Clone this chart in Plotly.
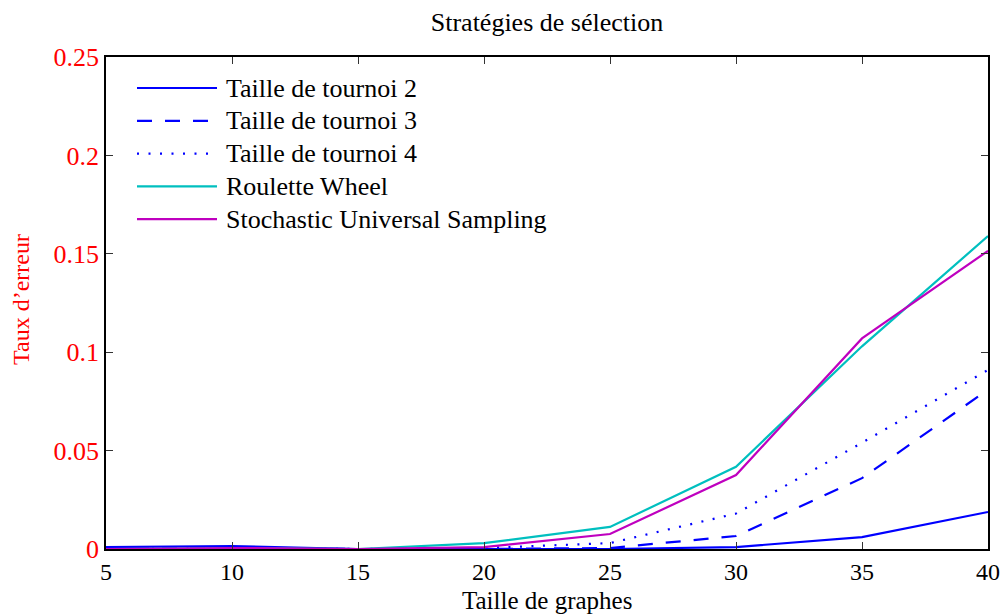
import plotly.graph_objects as go

x_sizes = [5, 10, 15, 20, 25, 30, 35, 40]
tournoi2 = [0.001, 0.0015, 0.0, 0.0, 0.0, 0.001, 0.006, 0.0188]
tournoi3 = [0.0005, 0.0005, 0.0, 0.0, 0.0005, 0.0066, 0.036, 0.081]
tournoi4 = [0.0005, 0.0005, 0.0, 0.0005, 0.003, 0.018, 0.054, 0.091]
roulette = [0.0, 0.0005, 0.0, 0.003, 0.0112, 0.0418, 0.103, 0.159]
sus = [0.0, 0.0005, 0.0, 0.001, 0.0076, 0.0376, 0.107, 0.1515]

names = ["Taille de tournoi 2", "Taille de tournoi 3", "Taille de tournoi 4",
         "Roulette Wheel", "Stochastic Universal Sampling"]
series = [tournoi2, tournoi3, tournoi4, roulette, sus]
colors = ["#0000ff", "#0000ff", "#0000ff", "#00bfbf", "#bf00bf"]
dashes = ["solid", "15px,13px", "2px,9.5px", "solid", "solid"]

y_ticks = [0, 0.05, 0.1, 0.15, 0.2, 0.25]
y_ticklabels = ["0", "0.05", "0.1", "0.15", "0.2", "0.25"]
x_ticks = [5, 10, 15, 20, 25, 30, 35, 40]

FONT = "Liberation Serif"

fig = go.Figure()
for n, s, c, d in zip(names, series, colors, dashes):
    fig.add_trace(go.Scatter(x=x_sizes, y=s, mode="lines", name=n,
                             line=dict(color=c, width=2.2, dash=d),
                             showlegend=False))

# custom legend (MATLAB style, long line samples)
W, H = 1004, 614
L, R, T, B = 106, 16, 57, 65
pw, ph = W - L - R, H - T - B
def px(xp):
    return (xp - L) / pw
def py(yp):
    return 1 - (yp - T) / ph

shapes = []
annotations = []
row0, step = 88, 32.8
for i, (n, c, d) in enumerate(zip(names, colors, dashes)):
    yy = row0 + i * step
    shapes.append(dict(type="line", xref="paper", yref="paper",
                       x0=px(137), x1=px(217), y0=py(yy), y1=py(yy),
                       line=dict(color=c, width=2.2, dash=d)))
    annotations.append(dict(text=n, xref="paper", yref="paper",
                            x=px(224), y=py(yy), xanchor="left", yanchor="middle",
                            showarrow=False,
                            font=dict(family=FONT, size=26, color="black")))

# axis titles as annotations for precise placement
annotations.append(dict(text="Taille de graphes", xref="paper", yref="paper",
                        x=0.5, y=py(600), xanchor="center", yanchor="middle",
                        showarrow=False,
                        font=dict(family=FONT, size=25, color="black")))
annotations.append(dict(text="Taux d’erreur", xref="paper", yref="paper",
                        x=px(21), y=py(300), xanchor="center", yanchor="middle",
                        textangle=-90, showarrow=False,
                        font=dict(family=FONT, size=24, color="red")))

fig.update_layout(
    width=W, height=H,
    margin=dict(l=L, r=R, t=T, b=B),
    paper_bgcolor="white", plot_bgcolor="white",
    title=dict(text="Stratégies de sélection", x=(L + pw / 2) / W, xanchor="center",
               y=1 - 22 / H, yanchor="middle",
               font=dict(family=FONT, size=26, color="black")),
    shapes=shapes, annotations=annotations,
    xaxis=dict(range=[5, 40], tickvals=x_ticks, ticks="inside", ticklen=7,
               tickcolor="#333", showline=True, linecolor="black", linewidth=1.5,
               mirror="ticks", showgrid=False, zeroline=False, automargin=False,
               tickfont=dict(family=FONT, size=24, color="black")),
    yaxis=dict(range=[0, 0.25], tickvals=y_ticks, ticktext=y_ticklabels,
               ticks="inside", ticklen=7, tickcolor="#333", showline=True,
               linecolor="black", linewidth=1.5, mirror="ticks",
               showgrid=False, zeroline=False, automargin=False,
               tickfont=dict(family=FONT, size=26, color="red")),
)

fig.write_html("out.html")
